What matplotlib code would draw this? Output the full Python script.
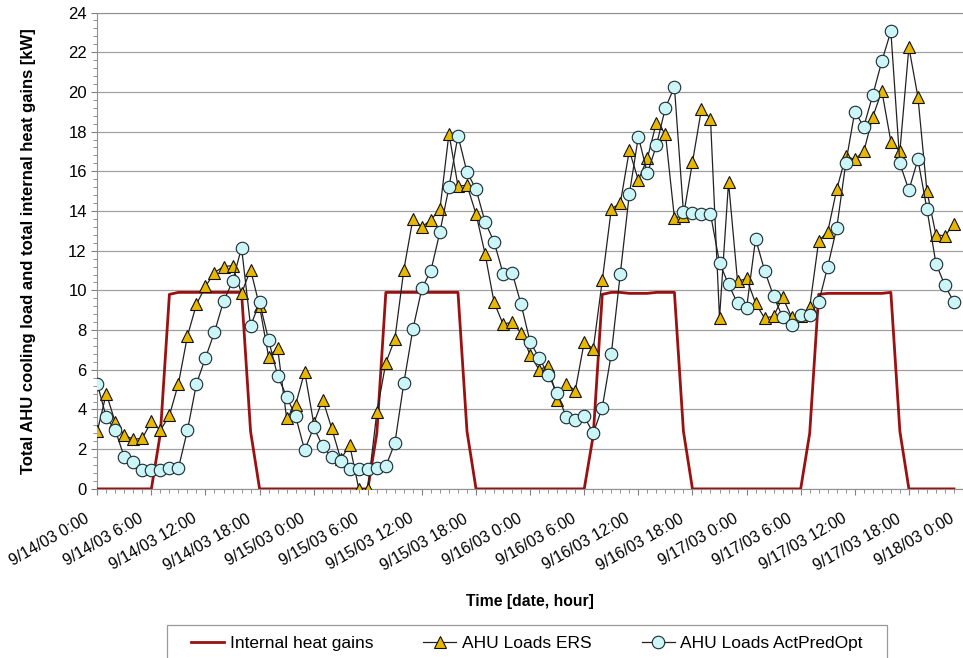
import numpy as np
import matplotlib
matplotlib.use("Agg")
import matplotlib.pyplot as plt
from matplotlib.ticker import MultipleLocator
from matplotlib.transforms import ScaledTranslation
from matplotlib.patches import Rectangle

plt.rcParams['font.family'] = ['Liberation Sans', 'DejaVu Sans']

# hourly samples, 9/14/03 0:00 .. 9/17/03 23:00
hours = np.arange(96)

internal_gains = [
    0, 0, 0, 0, 0, 0, 0, 2.8, 9.8, 9.9, 9.9, 9.9, 9.9, 9.9, 9.9, 9.9, 9.9, 2.9,
    0, 0, 0, 0, 0, 0, 0, 0, 0, 0, 0, 0, 0, 2.8, 9.9, 9.9, 9.9, 9.9, 9.9, 9.9,
    9.9, 9.9, 9.9, 2.9, 0, 0, 0, 0, 0, 0, 0, 0, 0, 0, 0, 0, 0, 2.7, 9.8, 9.9,
    9.9, 9.85, 9.85, 9.85, 9.9, 9.9, 9.9, 2.9, 0, 0, 0, 0, 0, 0, 0, 0, 0, 0,
    0, 0, 0, 2.8, 9.8, 9.85, 9.85, 9.85, 9.85, 9.85, 9.85, 9.85, 9.9, 2.9, 0, 0,
    0, 0, 0, 0,
]

ahu_ers = [
    2.9, 4.8, 3.35, 2.7, 2.5, 2.55, 3.4, 2.95, 3.7, 5.3, 7.7, 9.3, 10.2, 10.9,
    11.2, 11.25, 9.85, 11.05, 9.2, 6.65, 7.1, 3.55, 4.25, 5.9, 3.3, 4.5, 3.05,
    1.5, 2.2, 0.0, 0.0, 3.85, 6.35, 7.55, 11.05, 13.6, 13.2, 13.55, 14.1, 17.9,
    15.25, 15.3, 13.85, 11.85, 9.4, 8.3, 8.4, 7.85, 6.75, 6.0, 6.2, 4.5, 5.3,
    4.95, 7.4, 7.05, 10.5, 14.1, 14.4, 17.05, 15.55, 16.65, 18.45, 17.9, 13.65,
    13.75, 16.45, 19.15, 18.65, 8.6, 15.45, 10.45, 10.6, 9.35, 8.6, 8.7, 9.65,
    8.65, 8.7, 9.15, 12.5, 12.95, 15.1, 16.75, 16.6, 17.0, 18.75, 20.05, 17.5,
    17.0, 22.25, 19.75, 15.0, 12.8, 12.75, 13.35,
]

ahu_actpredopt = [
    5.3, 3.6, 2.95, 1.6, 1.35, 0.95, 0.95, 0.95, 1.05, 1.05, 2.95, 5.3, 6.6,
    7.9, 9.45, 10.45, 12.15, 8.2, 9.4, 7.5, 5.7, 4.65, 3.65, 1.95, 3.1, 2.15,
    1.6, 1.4, 1.0, 1.0, 1.0, 1.05, 1.15, 2.3, 5.35, 8.05, 10.1, 11.0, 12.95,
    15.2, 17.8, 15.95, 15.1, 13.45, 12.45, 10.85, 10.9, 9.3, 7.4, 6.6, 5.75,
    4.85, 3.6, 3.45, 3.65, 2.8, 4.1, 6.8, 10.85, 14.85, 17.75, 15.9, 17.3,
    19.2, 20.25, 13.95, 13.9, 13.85, 13.85, 11.4, 10.3, 9.35, 9.1, 12.6, 11.0,
    9.7, 8.65, 8.25, 8.75, 8.75, 9.4, 11.2, 13.15, 16.4, 19.0, 18.25, 19.85,
    21.55, 23.05, 16.4, 15.05, 16.6, 14.1, 11.35, 10.25, 9.4,
]

tick_hours = np.arange(0, 97, 6)
tick_labels = [
    '9/14/03 0:00', '9/14/03 6:00', '9/14/03 12:00', '9/14/03 18:00',
    '9/15/03 0:00', '9/15/03 6:00', '9/15/03 12:00', '9/15/03 18:00',
    '9/16/03 0:00', '9/16/03 6:00', '9/16/03 12:00', '9/16/03 18:00',
    '9/17/03 0:00', '9/17/03 6:00', '9/17/03 12:00', '9/17/03 18:00',
    '9/18/03 0:00',
]

fig = plt.figure(figsize=(9.63, 6.58), dpi=100)
ax = fig.add_axes([0.101, 0.257, 0.899, 0.724])

ax.plot(hours, internal_gains, color='#9B1111', lw=2.0,
        label='Internal heat gains', zorder=3)
ax.plot(hours, ahu_ers, color='#222222', lw=0.9, marker='^', ms=9,
        mfc='#E8B800', mec='#111111', mew=0.8,
        label='AHU Loads ERS', zorder=4)
ax.plot(hours, ahu_actpredopt, color='#222222', lw=0.9, marker='o', ms=9,
        mfc='#CCF5F8', mec='#1A2A30', mew=0.8,
        label='AHU Loads ActPredOpt', zorder=5)

ax.set_xlim(0, 96)
ax.set_ylim(0, 24)
ax.set_xticks(tick_hours)
ax.set_xticklabels(tick_labels, rotation=30, ha='right', va='top')
ax.xaxis.set_minor_locator(MultipleLocator(1))
ax.yaxis.set_major_locator(MultipleLocator(2))
ax.yaxis.set_minor_locator(MultipleLocator(0.4))
ax.tick_params(axis='both', which='major', length=4, color='#808080', width=0.8)
ax.tick_params(axis='x', which='major', labelsize=11.5, pad=12)
ax.tick_params(axis='y', which='major', labelsize=12)
ax.tick_params(axis='both', which='minor', length=3, color='#808080', width=0.6)

# nudge the rotated date labels a little to the left, as in the original
shift = ScaledTranslation(-6 / 100, 0, fig.dpi_scale_trans)
for lbl in ax.get_xticklabels():
    lbl.set_transform(lbl.get_transform() + shift)

ax.grid(axis='y', color='#A0A0A0', lw=0.9)
ax.set_axisbelow(True)
for side in ['left', 'bottom', 'top']:
    ax.spines[side].set_color('#909090')
ax.spines['right'].set_visible(False)

ax.set_xlabel('Time [date, hour]', fontsize=11.3, fontweight='bold', labelpad=15)
ax.set_ylabel('Total AHU cooling load and total internal heat gains [kW]',
              fontsize=12, fontweight='bold')
ax.yaxis.set_label_coords(-0.071, 0.5)

# legend box is wider than its entries and runs off the bottom edge
fig.patches.append(Rectangle((167 / 963, -0.03), 720 / 963, 0.0802,
                             transform=fig.transFigure, fill=False,
                             edgecolor='#999999', lw=0.9))
leg = fig.legend(loc='upper center', bbox_to_anchor=(0.547, 0.05), ncol=3,
                 fontsize=12.5, frameon=False,
                 handlelength=1.9, handletextpad=0.3, columnspacing=2.9,
                 borderpad=0.6, borderaxespad=0)

fig.savefig('out.png', dpi=100)
